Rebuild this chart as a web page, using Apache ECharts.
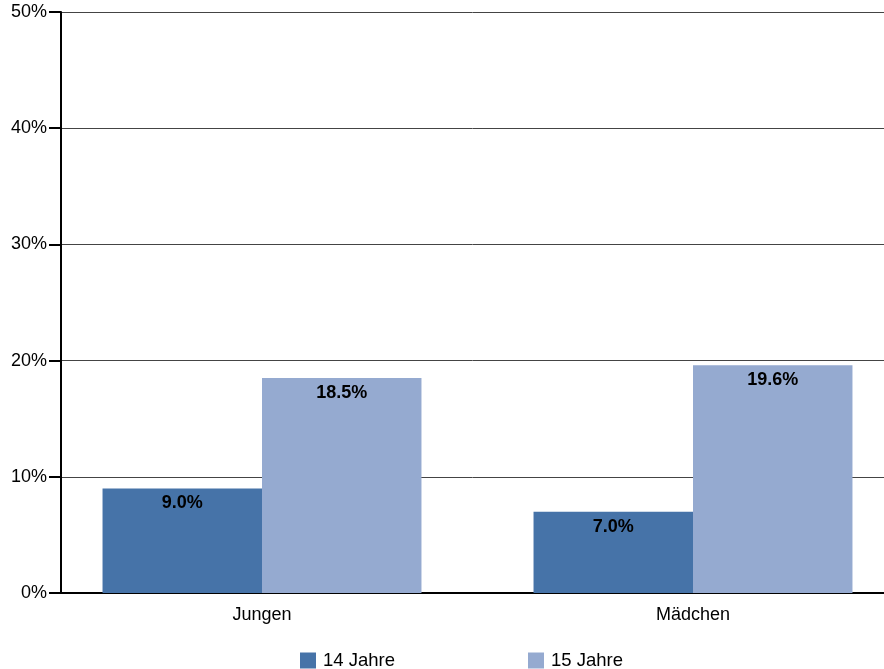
<!DOCTYPE html>
<html><head><meta charset="utf-8">
<script src="https://cdn.jsdelivr.net/npm/echarts@6/dist/echarts.min.js"></script>
<style>html,body{margin:0;padding:0;background:#fff}#c{width:884px;height:669px}</style>
</head><body><div id="c"></div>
<script>
var categories = ['Jungen', 'Mädchen'];
var seriesNames = ['14 Jahre', '15 Jahre'];
var values14 = [9.0, 7.0];
var values15 = [18.5, 19.6];
var yTicks = [0, 10, 20, 30, 40, 50];

var chart = echarts.init(document.getElementById('c'));
var font = 'Liberation Sans, Arial, sans-serif';
var labelCfg = {show: true, position: 'insideTop', distance: 6, color: '#000', fontWeight: 'bold', fontSize: 18, fontFamily: font,
  formatter: function(p){ return p.value.toFixed(1) + '%'; }};
chart.setOption({
  animation: false,
  grid: [
    {left: 61, right: 0, top: 12, bottom: 76, outerBoundsMode: 'none'},
    {left: 46.5, width: 862, top: 12, bottom: 76, outerBoundsMode: 'none'}
  ],
  legend: {
    data: seriesNames, left: 300, top: 651, padding: 0, itemWidth: 16, itemHeight: 16, itemGap: 133,
    icon: 'rect', textStyle: {fontSize: 18.5, fontFamily: font, color: '#000', padding: [0, 0, 0, 2]}
  },
  xAxis: [
    {gridIndex: 0, type: 'category', data: categories, axisLine: {lineStyle: {color: '#000', width: 2}},
     axisTick: {show: false}, axisLabel: {show: false}},
    {gridIndex: 1, type: 'category', data: categories, axisLine: {show: false}, axisTick: {show: false},
     axisLabel: {fontSize: 18, fontFamily: font, color: '#000', margin: 13}}
  ],
  yAxis: [
    {gridIndex: 0, type: 'value', min: 0, max: 50, interval: 10,
     axisLine: {show: true, lineStyle: {color: '#000', width: 2}},
     axisTick: {show: true, length: 12, lineStyle: {color: '#000', width: 2}},
     axisLabel: {fontSize: 18, fontFamily: font, color: '#000', margin: 14, formatter: function(v){ return v + '%'; }},
     splitLine: {show: true, lineStyle: {color: '#444', width: 1}}},
    {gridIndex: 1, type: 'value', min: 0, max: 50, interval: 10, show: false, splitLine: {show: false}}
  ],
  series: [
    {name: seriesNames[0], type: 'bar', xAxisIndex: 1, yAxisIndex: 1, data: values14,
     itemStyle: {color: '#4673A8'}, barGap: '0%', barCategoryGap: '26%', label: labelCfg},
    {name: seriesNames[1], type: 'bar', xAxisIndex: 1, yAxisIndex: 1, data: values15,
     itemStyle: {color: '#95AAD0'}, barGap: '0%', barCategoryGap: '26%', label: labelCfg}
  ]
});
</script></body></html>
